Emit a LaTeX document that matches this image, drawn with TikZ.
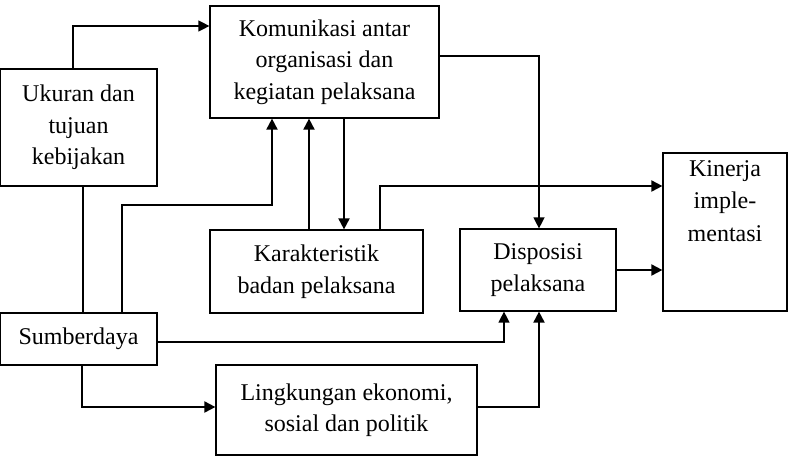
\documentclass[tikz,border=0pt]{standalone}
\usepackage{fontspec}
\setmainfont{Liberation Serif}
\usetikzlibrary{arrows.meta}

\tikzset{
	box/.style={draw, line width=1.2pt, align=center, inner sep=0pt,
		font=\fontsize{24}{31.5}\selectfont},
	thinline/.style={line width=1.3pt},
	thickline/.style={line width=1.9pt},
	tip/.style={-{Triangle[length=11pt,width=11pt]}},
}

\begin{document}
\begin{tikzpicture}[x=1pt, y=-1pt]
	\useasboundingbox (0,0) rectangle (790,466);

	\node[box, minimum width=157, minimum height=117] (uk) at (78.5,127.5) {Ukuran dan\\tujuan\\kebijakan};
	\node[box, minimum width=229, minimum height=112] (kom) at (324.5,62) {Komunikasi antar\\organisasi dan\\kegiatan pelaksana};
	\node[box, minimum width=213, minimum height=83] (kar) at (316.5,271.5) {Karakteristik\\badan pelaksana};
	\node[box, minimum width=156, minimum height=82] (dis) at (538,270) {Disposisi\\pelaksana};
	\node[box, minimum width=124, minimum height=158,
		label={[anchor=north, align=center, inner sep=8pt, font=\fontsize{24}{32.5}\selectfont]north:Kinerja\\imple-\\mentasi}] (kin) at (725,232) {};
	\node[box, minimum width=157, minimum height=52] (sum) at (78.5,339) {Sumberdaya};
	\node[box, minimum width=261, minimum height=90] (lin) at (346.5,410) {Lingkungan ekonomi,\\sosial dan politik};

	\draw[thinline, tip] ([xshift=-5.5]uk.north) |- ([yshift=36]kom.west);
	\draw[thinline] ([xshift=4.5]uk.south) -- ([xshift=4.5]sum.north);
	\draw[thickline, tip] ([xshift=43.5]sum.north) -- ++(0,-107) -| ([xshift=-52.5]kom.south);
	\draw[thickline, tip] ([xshift=-7.5]kar.north) -- ([xshift=-7.5]kar.north |- kom.south);
	\draw[thickline, tip] ([xshift=19.5]kom.south) -- ([xshift=19.5]kom.south |- kar.north);
	\draw[thickline, tip] ([xshift=63.5]kar.north) |- ([yshift=46]kin.west);
	\draw[thinline, tip] ([yshift=6]kom.east) -| ([xshift=1]dis.north);
	\draw[thickline, tip] (dis.east) -- (dis.east -| kin.west);
	\draw[thinline, tip] ([yshift=-3]sum.east) -| ([xshift=-34]dis.south);
	\draw[thickline, tip] ([yshift=3]lin.east) -| ([xshift=1]dis.south);
	\draw[thickline, tip] ([xshift=3.5]sum.south) |- ([yshift=3]lin.west);
\end{tikzpicture}
\end{document}
